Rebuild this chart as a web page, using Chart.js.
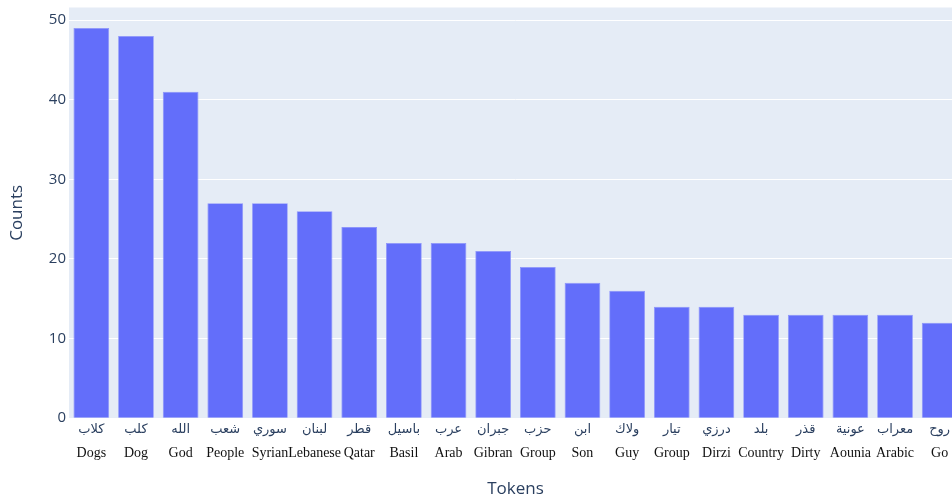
<!DOCTYPE html>
<html>
<head>
<meta charset="utf-8" />
<title>Token counts</title>
<script src="https://cdn.jsdelivr.net/npm/chart.js@4.4.1/dist/chart.umd.min.js"></script>
<style>
  html, body { margin: 0; padding: 0; background: #fff; overflow: hidden; }
  #box { width: 982px; height: 502px; }
</style>
</head>
<body>
<div id="box"><canvas id="myChart" width="982" height="502"></canvas></div>
<script>
// token labels: arabic word + english gloss
const arabic = ['كلاب', 'كلب', 'الله', 'شعب', 'سوري', 'لبنان', 'قطر', 'باسيل', 'عرب', 'جبران',
                'حزب', 'ابن', 'ولاك', 'تيار', 'درزي', 'بلد', 'قذر', 'عونية', 'معراب', 'روح'];
const english = ['Dogs', 'Dog', 'God', 'People', 'Syrian', 'Lebanese', 'Qatar', 'Basil', 'Arab', 'Gibran',
                 'Group', 'Son', 'Guy', 'Group', 'Dirzi', 'Country', 'Dirty', 'Aounia', 'Arabic', 'Go'];
const counts = [49, 48, 41, 27, 27, 26, 24, 22, 22, 21, 19, 17, 16, 14, 14, 13, 13, 13, 13, 12];
const yTicks = [0, 10, 20, 30, 40, 50];
const yMax = 51.58;

// light blue plot background
const plotBg = {
  id: 'plotBg',
  beforeDraw(chart) {
    const { ctx, chartArea: a } = chart;
    ctx.save();
    ctx.fillStyle = '#e5ecf6';
    ctx.fillRect(a.left, a.top, a.right - a.left, a.bottom - a.top);
    ctx.restore();
  }
};

const ctx = document.getElementById('myChart').getContext('2d');
const myChart = new Chart(ctx, {
  type: 'bar',
  data: {
    labels: arabic,
    datasets: [{
      label: 'Counts',
      data: counts,
      xAxisID: 'x',
      backgroundColor: '#636efa',
      borderColor: '#8c94fb',
      borderWidth: 0.8,
      barPercentage: 0.8,
      categoryPercentage: 1.0
    }]
  },
  options: {
    responsive: false,
    animation: false,
    layout: { padding: { top: 0, right: 20, bottom: 3, left: 0 } },
    plugins: { legend: { display: false }, tooltip: { enabled: false } },
    scales: {
      // arabic row
      x: {
        position: 'bottom',
        grid: { display: false, drawTicks: false },
        border: { display: false },
        ticks: {
          color: '#2a3f5f',
          padding: 4,
          maxRotation: 0,
          autoSkip: false,
          font: { family: "'DejaVu Sans', 'Liberation Serif', serif", size: 13 }
        }
      },
      // english row
      x2: {
        type: 'category',
        position: 'bottom',
        labels: english,
        offset: true,
        grid: { display: false, drawTicks: false },
        border: { display: false },
        ticks: {
          color: '#111111',
          padding: 3,
          maxRotation: 0,
          autoSkip: false,
          font: { family: "'Liberation Serif', serif", size: 14 }
        },
        title: {
          display: true,
          text: 'Tokens',
          color: '#2a3f5f',
          padding: { top: 14, bottom: 0 },
          font: { family: "'Open Sans', sans-serif", size: 17 }
        }
      },
      y: {
        min: 0,
        max: yMax,
        afterFit(scale) { scale.width = 69; },
        afterBuildTicks(scale) { scale.ticks = yTicks.map(v => ({ value: v })); },
        grid: { color: '#ffffff', lineWidth: 1, drawTicks: false },
        border: { display: false },
        ticks: {
          color: '#2a3f5f',
          padding: 3,
          font: { family: "'Open Sans', sans-serif", size: 15, lineHeight: 0.6 }
        },
        title: {
          display: true,
          text: 'Counts',
          color: '#2a3f5f',
          padding: { top: 7, bottom: 0 },
          font: { family: "'Open Sans', sans-serif", size: 17 }
        }
      }
    }
  },
  plugins: [plotBg]
});
</script>
</body>
</html>
